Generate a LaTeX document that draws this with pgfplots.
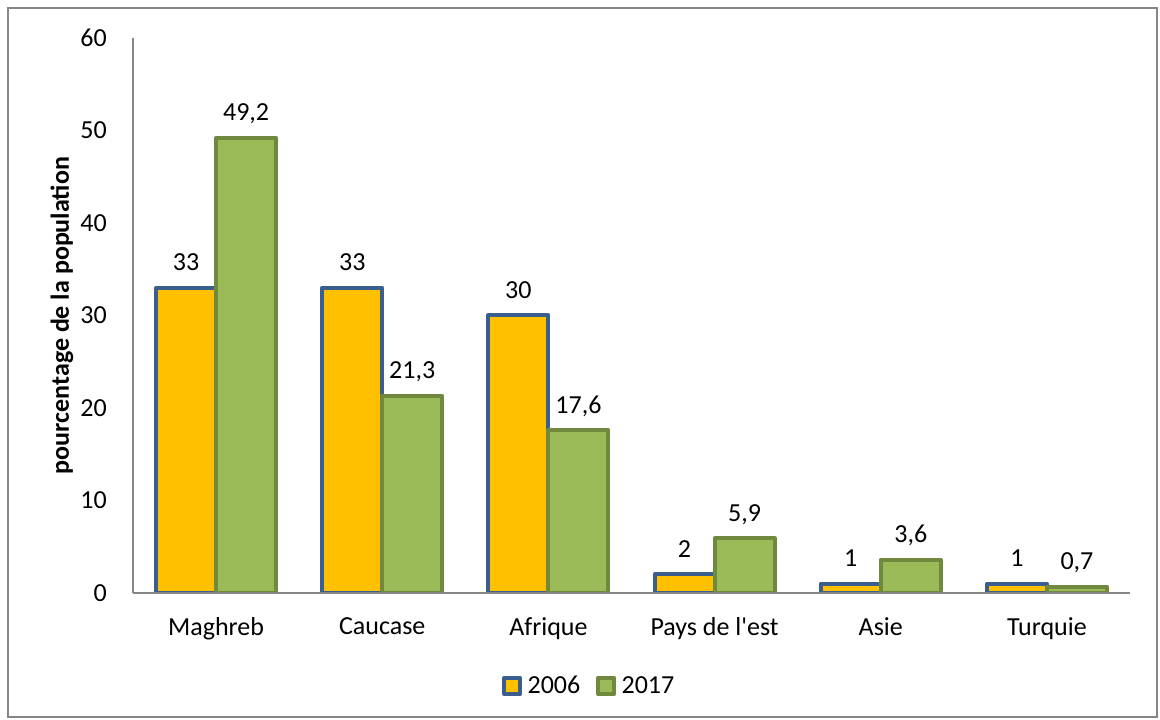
\documentclass[border=0pt]{standalone}
\usepackage{fontspec}
\setmainfont{Carlito}[Ligatures=TeXOff]
\usepackage{pgfplots}
\pgfplotsset{compat=1.18}
\definecolor{orangebar}{HTML}{FFC000}
\definecolor{blueedge}{HTML}{3A5F8E}
\definecolor{greenbar}{HTML}{9BBB59}
\definecolor{greenedge}{HTML}{71893F}
\definecolor{axisgray}{HTML}{868686}
\newcommand\cf{\fontsize{19.5}{23}\selectfont}
\begin{document}
\begin{tikzpicture}
\path[use as bounding box] (-99.75pt,-95.25pt) rectangle (770.25pt,444.75pt);
\draw[axisgray, line width=1.5pt] (-93.75pt,-93pt) rectangle (768pt,438.75pt);
\begin{axis}[
    at={(0,0)}, anchor=south west,
    scale only axis,
    width=747.75pt, height=416.25pt,
    ybar=0pt, bar width=45pt,
    xmin=-0.5, xmax=5.5,
    ymin=0, ymax=60,
    enlargelimits=false,
    axis lines*=left,
    axis line style={axisgray, line width=1.5pt},
    axis on top,
    major tick length=0pt,
    xtick=data,
    xticklabels={Maghreb, Caucase, Afrique, Pays de l'est, Asie, Turquie},
    ytick={0,10,...,60},
    xticklabel style={font=\cf, anchor=north, inner sep=0pt, yshift=-18pt},
    yticklabel style={font=\cf, anchor=east, inner sep=0pt, xshift=-19.5pt},
    ylabel={\textbf{pourcentage de la population}},
    ylabel style={font=\cf, at={(axis description cs:-0.0712,0.5)}, anchor=center},
    /pgf/number format/.cd, use comma, fixed, precision=1, assume math mode=true, /pgfplots/.cd,
    nodes near coords,
    every node near coord/.append style={font=\cf, anchor=base, inner sep=0pt, yshift=12.75pt, text=black},
    legend style={draw=none, fill=none, font=\cf,
        at={(axis description cs:0.458,-0.1676)}, anchor=center,
        legend columns=2,
        /tikz/every odd column/.append style={column sep=2pt},
        /tikz/every even column/.append style={column sep=10pt}},
    legend image code/.code={\draw[#1, line width=3pt, line join=round] (0pt,-6pt) rectangle (12pt,6pt);},
]
\addplot[fill=orangebar, draw=blueedge, line width=3pt, line join=round]
    coordinates {(0,33) (1,33) (2,30) (3,2) (4,1) (5,1)};
\addplot[fill=greenbar, draw=greenedge, line width=3pt, line join=round]
    coordinates {(0,49.2) (1,21.3) (2,17.6) (3,5.9) (4,3.6) (5,0.7)};
\legend{2006,2017}
\end{axis}
\end{tikzpicture}
\end{document}
